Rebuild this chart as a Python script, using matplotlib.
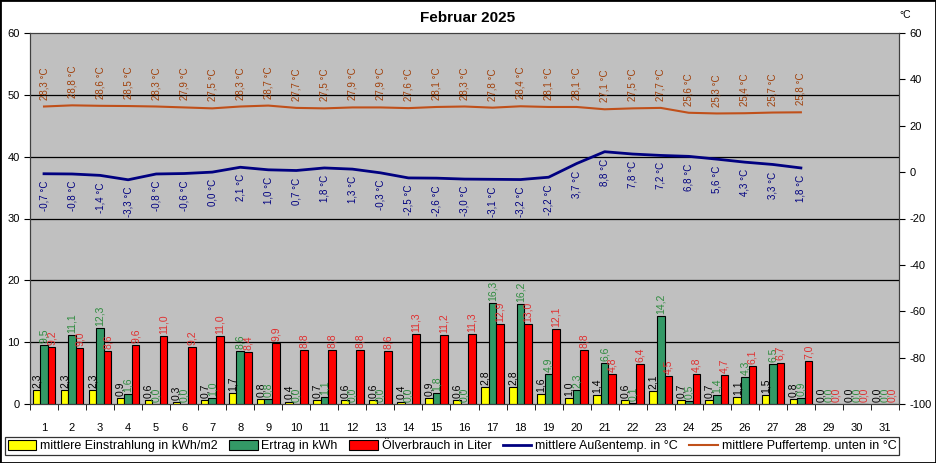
import numpy as np
import matplotlib
matplotlib.use("Agg")
import matplotlib.pyplot as plt
from matplotlib.patches import Rectangle

plt.rcParams['font.family'] = ['Liberation Sans', 'DejaVu Sans']
plt.rcParams['axes.unicode_minus'] = False

days = list(range(1, 32))

# Tageswerte Februar 2025
einstrahlung = [2.3, 2.3, 2.3, 0.9, 0.6, 0.3, 0.7, 1.7, 0.8, 0.4, 0.7, 0.6, 0.6, 0.4, 0.9, 0.6,
                2.8, 2.8, 1.6, 1.0, 1.4, 0.6, 2.1, 0.7, 0.7, 1.1, 1.5, 0.8, 0.0, 0.0, 0.0]
ertrag = [9.5, 11.1, 12.3, 1.6, 0.0, 0.0, 1.0, 8.6, 0.8, 0.0, 1.1, 0.0, 0.0, 0.0, 1.8, 0.0,
          16.3, 16.2, 4.9, 2.3, 6.6, 0.1, 14.2, 0.5, 1.4, 4.3, 6.5, 0.9, 0.0, 0.0, 0.0]
oelverbrauch = [9.2, 9.0, 8.6, 9.6, 11.0, 9.2, 11.0, 8.4, 9.9, 8.8, 8.8, 8.8, 8.6, 11.3, 11.2, 11.3,
                12.9, 13.0, 12.1, 8.8, 4.8, 6.4, 4.5, 4.8, 4.7, 6.1, 6.7, 7.0, 0.0, 0.0, 0.0]
aussentemp = [-0.7, -0.8, -1.4, -3.3, -0.8, -0.6, 0.0, 2.1, 1.0, 0.7, 1.8, 1.3, -0.3, -2.5, -2.6,
              -3.0, -3.1, -3.2, -2.2, 3.7, 8.8, 7.8, 7.2, 6.8, 5.6, 4.3, 3.3, 1.8]
puffertemp = [28.3, 28.8, 28.6, 28.5, 28.3, 27.9, 27.5, 28.3, 28.7, 27.7, 27.5, 27.9, 27.9, 27.6,
              28.1, 28.3, 27.8, 28.4, 28.1, 28.1, 27.1, 27.5, 27.7, 25.6, 25.3, 25.4, 25.7, 25.8]


def de(v):
    return ('%.1f' % v).replace('.', ',')


fig = plt.figure(figsize=(9.36, 4.63), dpi=100)
ax = fig.add_axes([30 / 936, 1 - 404 / 463, 869 / 936, 371 / 463])
ax.set_facecolor('#C0C0C0')

x = np.arange(len(days))
w = 0.27
series = [
    (einstrahlung, '#FFFF00', 'black', 'mittlere Einstrahlung in kWh/m2', -w),
    (ertrag, '#339966', '#2E8B3E', 'Ertrag in kWh', 0),
    (oelverbrauch, '#FF0000', '#E03030', 'Ölverbrauch in Liter', w),
]
handles = []
for vals, col, lcol, name, off in series:
    b = ax.bar(x + off, vals, w, color=col, edgecolor='black', linewidth=0.8,
               label=name, zorder=3)
    handles.append(b)
    for xi, v in zip(x, vals):
        ax.annotate(de(v), (xi + off, v), xytext=(0, 1.5), textcoords='offset points',
                    rotation=90, ha='center', va='bottom', fontsize=7.5, color=lcol,
                    zorder=5)

ax.set_xlim(-0.5, len(days) - 0.5)
ax.set_ylim(0, 60)
ax.set_yticks(range(0, 61, 10))
ax.set_xticks(x)
ax.set_xticklabels([str(d) for d in days])
ax.set_xticks(np.arange(-0.5, len(days), 1), minor=True)
ax.tick_params(axis='x', which='major', length=0, pad=14, labelsize=8)
ax.tick_params(axis='x', which='minor', length=4, direction='out')
ax.tick_params(axis='y', length=4, labelsize=8)
for yv in range(10, 60, 10):
    ax.axhline(yv, color='black', linewidth=0.9, zorder=1)

ax2 = ax.twinx()
ax2.set_ylim(-100, 60)
ax2.set_yticks(range(-100, 61, 20))
ax2.tick_params(axis='y', length=4, labelsize=8)
xt = x[:len(aussentemp)]
l1, = ax2.plot(xt, aussentemp, color='#000080', linewidth=2, label='mittlere Außentemp. in °C', zorder=4)
l2, = ax2.plot(xt, puffertemp, color='#C0501A', linewidth=1.5, label='mittlere Puffertemp. unten in °C', zorder=4)
for xi, v in zip(xt, aussentemp):
    ax2.annotate(de(v) + ' °C', (xi, v), xytext=(0, -5), textcoords='offset points',
                 rotation=90, ha='center', va='top', fontsize=7, color='#000080')
for xi, v in zip(xt, puffertemp):
    ax2.annotate(de(v) + ' °C', (xi, v), xytext=(0, 5), textcoords='offset points',
                 rotation=90, ha='center', va='bottom', fontsize=7, color='#A0400A')

for a in (ax, ax2):
    for s in a.spines.values():
        s.set_color('#404040')
        s.set_linewidth(0.8)

fig.text(468 / 936, 1 - 18 / 463, 'Februar 2025', ha='center', va='center',
         fontsize=11, fontweight='bold')
fig.text(905 / 936, 1 - 15 / 463, '°C', ha='center', va='center', fontsize=7.5)

leg = fig.legend(handles + [l1, l2], [h.get_label() for h in handles + [l1, l2]],
                 loc='center left', bbox_to_anchor=(5 / 936, 1 - 446 / 463), ncol=5,
                 fontsize=9, frameon=True, fancybox=False, edgecolor='black',
                 handlelength=2.3, handleheight=0.8, handletextpad=0.3, columnspacing=0.9,
                 borderpad=0.2, borderaxespad=0)
leg.get_frame().set_linewidth(0.9)

fig.patches.append(Rectangle((0, 0), 1, 1, transform=fig.transFigure, fill=False,
                             edgecolor='black', linewidth=2))

fig.savefig('out.png', dpi=100)
